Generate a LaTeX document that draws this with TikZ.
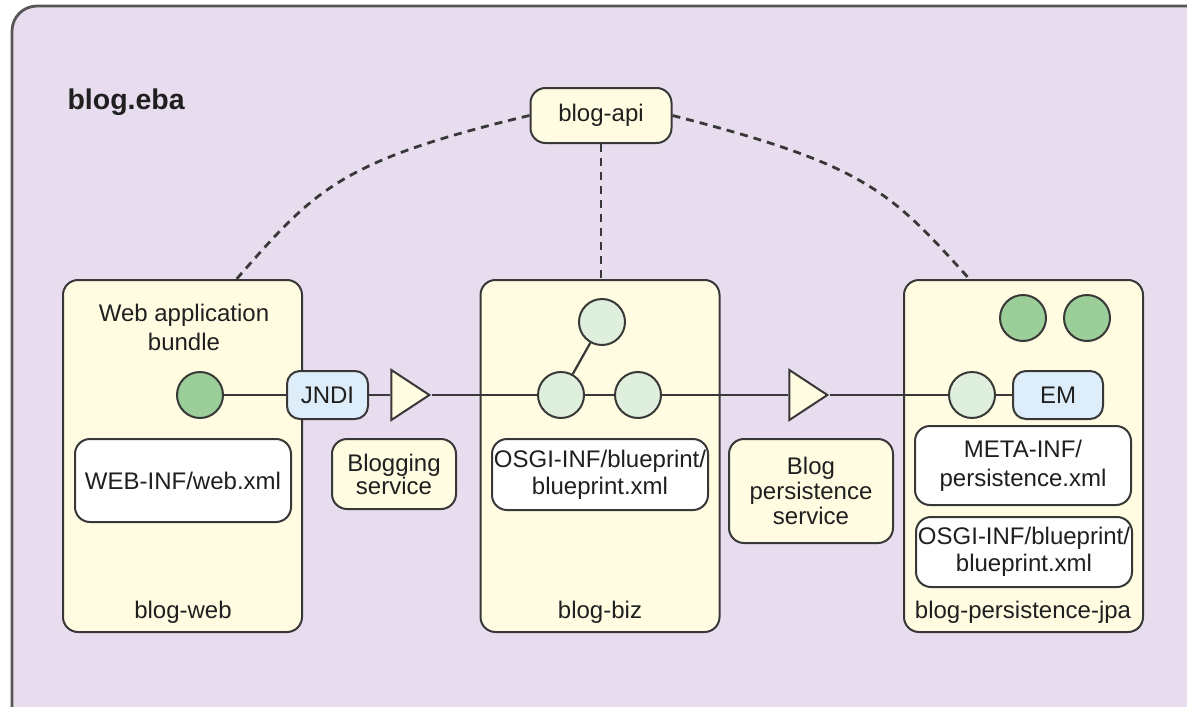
\documentclass[tikz,border=0pt]{standalone}
\usepackage{fontspec}
\setmainfont{Liberation Sans}
\usetikzlibrary{positioning,shapes.geometric}
\definecolor{ebLilac}{HTML}{E8DDEE}
\definecolor{ebCream}{HTML}{FFFCE2}
\definecolor{ebSky}{HTML}{DDEEFA}
\definecolor{ebMint}{HTML}{DFEFDD}
\definecolor{ebGreen}{HTML}{9BCE98}
\definecolor{ebInk}{HTML}{383838}

\begin{document}
\begin{tikzpicture}[x=1pt,y=-1pt,font=\fontsize{24}{27}\selectfont,
  every node/.append style={text=black!88},
  bundle/.style={draw=ebInk,fill=ebCream,line width=2pt,rounded corners=15pt,minimum width=239pt,minimum height=352pt},
  filebox/.style={draw=ebInk,fill=white,line width=2pt,rounded corners=15pt,align=center,inner sep=1pt},
  svcbox/.style={filebox,fill=ebCream},
  tag/.style={draw=ebInk,fill=ebSky,line width=2pt,rounded corners=13pt,minimum height=48pt},
  dot/.style={circle,draw=ebInk,fill=ebGreen,line width=2pt,minimum size=46pt,inner sep=0pt},
  port/.style={dot,fill=ebMint},
  provide/.style={isosceles triangle,isosceles triangle stretches,draw=ebInk,fill=ebCream,line width=2pt,minimum width=50pt,minimum height=38pt,inner sep=0pt},
  wire/.style={draw=ebInk,line width=2.2pt},
  uses/.style={draw=ebInk,line width=2.8pt,dash pattern=on 8pt off 6pt}]
\useasboundingbox (0,0) rectangle (1187,707);
\clip (0,0) rectangle (1187,707);
% the application archive
\draw[draw=ebInk!85,fill=ebLilac,line width=2.8pt,rounded corners=25pt] (12,6) rectangle (1215,735);
\node[anchor=base west,font=\bfseries\fontsize{28.5}{30}\selectfont] (eba) at (64,109) {blog.eba};

% bundles
\node[bundle] (web) at (182.5,456) {};
\node[bundle] (biz) at (600,456) {};
\node[bundle] (jpa) at (1023.5,456) {};
\node[svcbox,minimum width=141pt,minimum height=55pt] (api) at (601,115.5) {blog-api};

% blog-web
\node[align=center,font=\fontsize{24}{29}\selectfont] (webtitle) at (184,327) {Web application\\bundle};
\node[dot] (webdot) at (200,395) {};
\node[tag,minimum width=81pt] (jndi) at (327.5,395) {JNDI};
\node[provide,anchor=apex] (blogsvc) at (432,395) {};
\node[svcbox,minimum width=124pt,minimum height=70pt,font=\fontsize{24}{23}\selectfont] (blogsvclbl) at (394,474) {Blogging\\service};
\node[filebox,minimum width=216pt,minimum height=83pt] (webxml) at (183,480.5) {WEB-INF/web.xml};
\node[anchor=base] (weblbl) at (183,618) {blog-web};

% blog-biz
\node[port] (bizref) at (602,322) {};
\node[port] (bizin) at (561,395) {};
\node[port] (bizout) at (638,395) {};
\node[filebox,minimum width=216pt,minimum height=71pt] (bizbp) at (600,474.5) {OSGI-INF/blueprint/\\blueprint.xml};
\node[anchor=base] (bizlbl) at (600,618) {blog-biz};
\node[provide,anchor=apex] (perssvc) at (830,395) {};
\node[svcbox,minimum width=164pt,minimum height=104pt,font=\fontsize{24}{25}\selectfont] (perssvclbl) at (811,491) {Blog\\persistence\\service};

% blog-persistence-jpa
\node[dot] (emf1) at (1023,318) {};
\node[dot] (emf2) at (1087,318) {};
\node[port] (jpain) at (972,395) {};
\node[tag,minimum width=90pt] (em) at (1058,395) {EM};
\node[filebox,minimum width=216pt,minimum height=79pt,font=\fontsize{24}{29}\selectfont] (jpaxml) at (1023,465.5) {META-INF/\\persistence.xml};
\node[filebox,minimum width=216pt,minimum height=70pt] (jpabp) at (1024,552) {OSGI-INF/blueprint/\\blueprint.xml};
\node[anchor=base] (jpalbl) at (1023,618) {blog-persistence-jpa};

% service wiring
\foreach \a/\b in {webdot/jndi,jndi/blogsvc,blogsvc/bizin,bizref/bizin,bizin/bizout,bizout/perssvc,perssvc/jpain,jpain/em}
  \draw[wire] (\a) -- (\b);

% api package imports
\draw[uses] (api) -- (api |- biz.north);
\draw[uses] (api.west) .. controls (338,161) and (314,191) .. (web.73);
\draw[uses] (api.east) .. controls (866,165) and (890,191) .. (jpa.107);
\end{tikzpicture}
\end{document}
